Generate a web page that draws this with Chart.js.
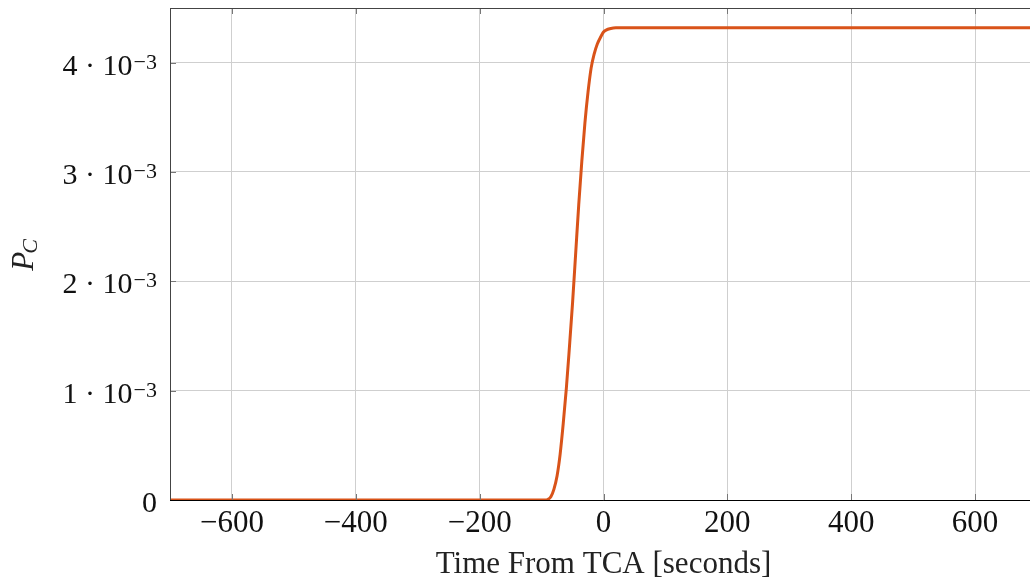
<!DOCTYPE html>
<html>
<head>
<meta charset="utf-8">
<script src="https://cdn.jsdelivr.net/npm/chart.js@4"></script>
<style>
    html, body { margin: 0; padding: 0; background: #fff; overflow: hidden; }
    #wrap { width: 1030px; height: 583px; overflow: hidden; }
</style>
</head>
<body>
<div id="wrap"><canvas id="pc" width="1050" height="583"></canvas></div>
<script>
// ------------------------------------------
// Dados (tempo em s, Pc)
// ------------------------------------------
const timeSec = [-700, -95, -90, -85, -80, -75, -70, -65, -60, -55, -50, -45, -40,
                 -35, -30, -25, -20, -15, -10, -5, 0, 5, 10, 20, 30, 700];
const pcValues = [0, 0, 0.000005, 0.00003, 0.0001, 0.00022, 0.00042, 0.0007, 0.00102,
                  0.0014, 0.0018, 0.00225, 0.0027, 0.0031, 0.00345, 0.00373, 0.00395,
                  0.00408, 0.00417, 0.00423, 0.00428, 0.0043, 0.00431, 0.00432, 0.00432, 0.00432];

const xTicks = [-600, -400, -200, 0, 200, 400, 600];
const yTicks = [0, 0.001, 0.002, 0.003, 0.004];
const yTickBase = ['0', '1 · 10', '2 · 10', '3 · 10', '4 · 10'];
const yTickExp = ['', '−3', '−3', '−3', '−3'];

const FONT = "'Liberation Serif', 'DejaVu Serif', serif";

// ------------------------------------------
// Moldura e marcas de tick internas
// ------------------------------------------
const framePlugin = {
    id: 'frame',
    afterDraw(chart) {
        const { ctx, chartArea: a, scales } = chart;
        ctx.save();
        ctx.strokeStyle = '#777';
        ctx.lineWidth = 1;
        ctx.beginPath();
        xTicks.forEach(v => {
            const px = Math.round(scales.x.getPixelForValue(v)) + 0.5;
            ctx.moveTo(px, a.bottom); ctx.lineTo(px, a.bottom - 6);
            ctx.moveTo(px, a.top); ctx.lineTo(px, a.top + 6);
        });
        yTicks.forEach(v => {
            const py = Math.round(scales.y.getPixelForValue(v)) + 0.5;
            ctx.moveTo(a.left, py); ctx.lineTo(a.left + 6, py);
            ctx.moveTo(a.right, py); ctx.lineTo(a.right - 6, py);
        });
        ctx.stroke();

        ctx.strokeStyle = '#444';
        ctx.strokeRect(Math.round(a.left) + 0.5, Math.round(a.top) + 0.5,
                       a.right - a.left, a.bottom - a.top);
        ctx.beginPath();
        ctx.strokeStyle = '#000';
        ctx.moveTo(a.left, Math.round(a.bottom) + 0.5);
        ctx.lineTo(a.right, Math.round(a.bottom) + 0.5);
        ctx.stroke();
        ctx.restore();
    }
};

// ------------------------------------------
// Rótulos do eixo Y com expoente sobrescrito
// ------------------------------------------
const yLabelsPlugin = {
    id: 'ylabels',
    afterDraw(chart) {
        const { ctx, scales } = chart;
        const right = 157;
        ctx.save();
        ctx.fillStyle = '#111';
        ctx.textAlign = 'left';
        ctx.textBaseline = 'alphabetic';
        yTicks.forEach((v, i) => {
            const py = scales.y.getPixelForValue(v);
            ctx.font = '22px ' + FONT;
            const wE = yTickExp[i] ? ctx.measureText(yTickExp[i]).width : 0;
            ctx.font = '30px ' + FONT;
            const wB = ctx.measureText(yTickBase[i]).width;
            const xB = right - wE - wB - (wE ? 1 : 0);
            ctx.fillText(yTickBase[i], xB, py + 12);
            if (wE) {
                ctx.font = '22px ' + FONT;
                ctx.fillText(yTickExp[i], right - wE, py + 6);
            }
        });
        ctx.restore();
    }
};

// Título do eixo Y: P com índice C
const yTitlePlugin = {
    id: 'ytitle',
    afterDraw(chart) {
        const { ctx, chartArea: a } = chart;
        ctx.save();
        ctx.translate(33, (a.top + a.bottom) / 2);
        ctx.rotate(-Math.PI / 2);
        ctx.fillStyle = '#222';
        ctx.textBaseline = 'alphabetic';
        ctx.font = 'italic 31px ' + FONT;
        const wP = ctx.measureText('P').width;
        ctx.font = 'italic 22px ' + FONT;
        const wC = ctx.measureText('C').width;
        const x0 = -(wP + wC) / 2;
        ctx.font = 'italic 31px ' + FONT;
        ctx.fillText('P', x0, 0);
        ctx.font = 'italic 22px ' + FONT;
        ctx.fillText('C', x0 + wP - 2, 4);
        ctx.restore();
    }
};

new Chart(document.getElementById('pc'), {
    type: 'line',
    data: {
        datasets: [{
            data: timeSec.map((t, i) => ({ x: t, y: pcValues[i] })),
            borderColor: 'rgb(217, 83, 25)',
            borderWidth: 3,
            pointRadius: 0,
            fill: false,
            cubicInterpolationMode: 'monotone'
        }]
    },
    options: {
        responsive: false,
        animation: false,
        devicePixelRatio: 1,
        layout: { padding: { top: 8, right: 13, left: 0, bottom: 0 } },
        plugins: { legend: { display: false }, tooltip: { enabled: false } },
        scales: {
            x: {
                type: 'linear',
                min: -700,
                max: 700,
                afterBuildTicks: s => { s.ticks = xTicks.map(v => ({ value: v })); },
                afterFit: s => { s.height = 83; s.paddingLeft = 0; s.paddingRight = 0; },
                border: { display: false },
                grid: { color: '#cfcfcf', lineWidth: 1, tickLength: 0 },
                ticks: {
                    color: '#111',
                    padding: 5,
                    maxRotation: 0,
                    font: { family: FONT, size: 31 },
                    callback: v => (v < 0 ? '\u2212' + Math.abs(v) : String(v))
                },
                title: {
                    display: true,
                    text: 'Time From TCA [seconds]',
                    color: '#222',
                    padding: { top: 6, bottom: 0 },
                    font: { family: FONT, size: 31 }
                }
            },
            y: {
                type: 'linear',
                min: 0,
                max: 0.0045,
                afterBuildTicks: s => { s.ticks = yTicks.map(v => ({ value: v })); },
                afterFit: s => { s.width = 170; s.paddingTop = 0; s.paddingBottom = 0; },
                border: { display: false },
                grid: { color: '#cfcfcf', lineWidth: 1, tickLength: 0 },
                ticks: { display: false }
            }
        }
    },
    plugins: [framePlugin, yLabelsPlugin, yTitlePlugin]
});
</script>
</body>
</html>
